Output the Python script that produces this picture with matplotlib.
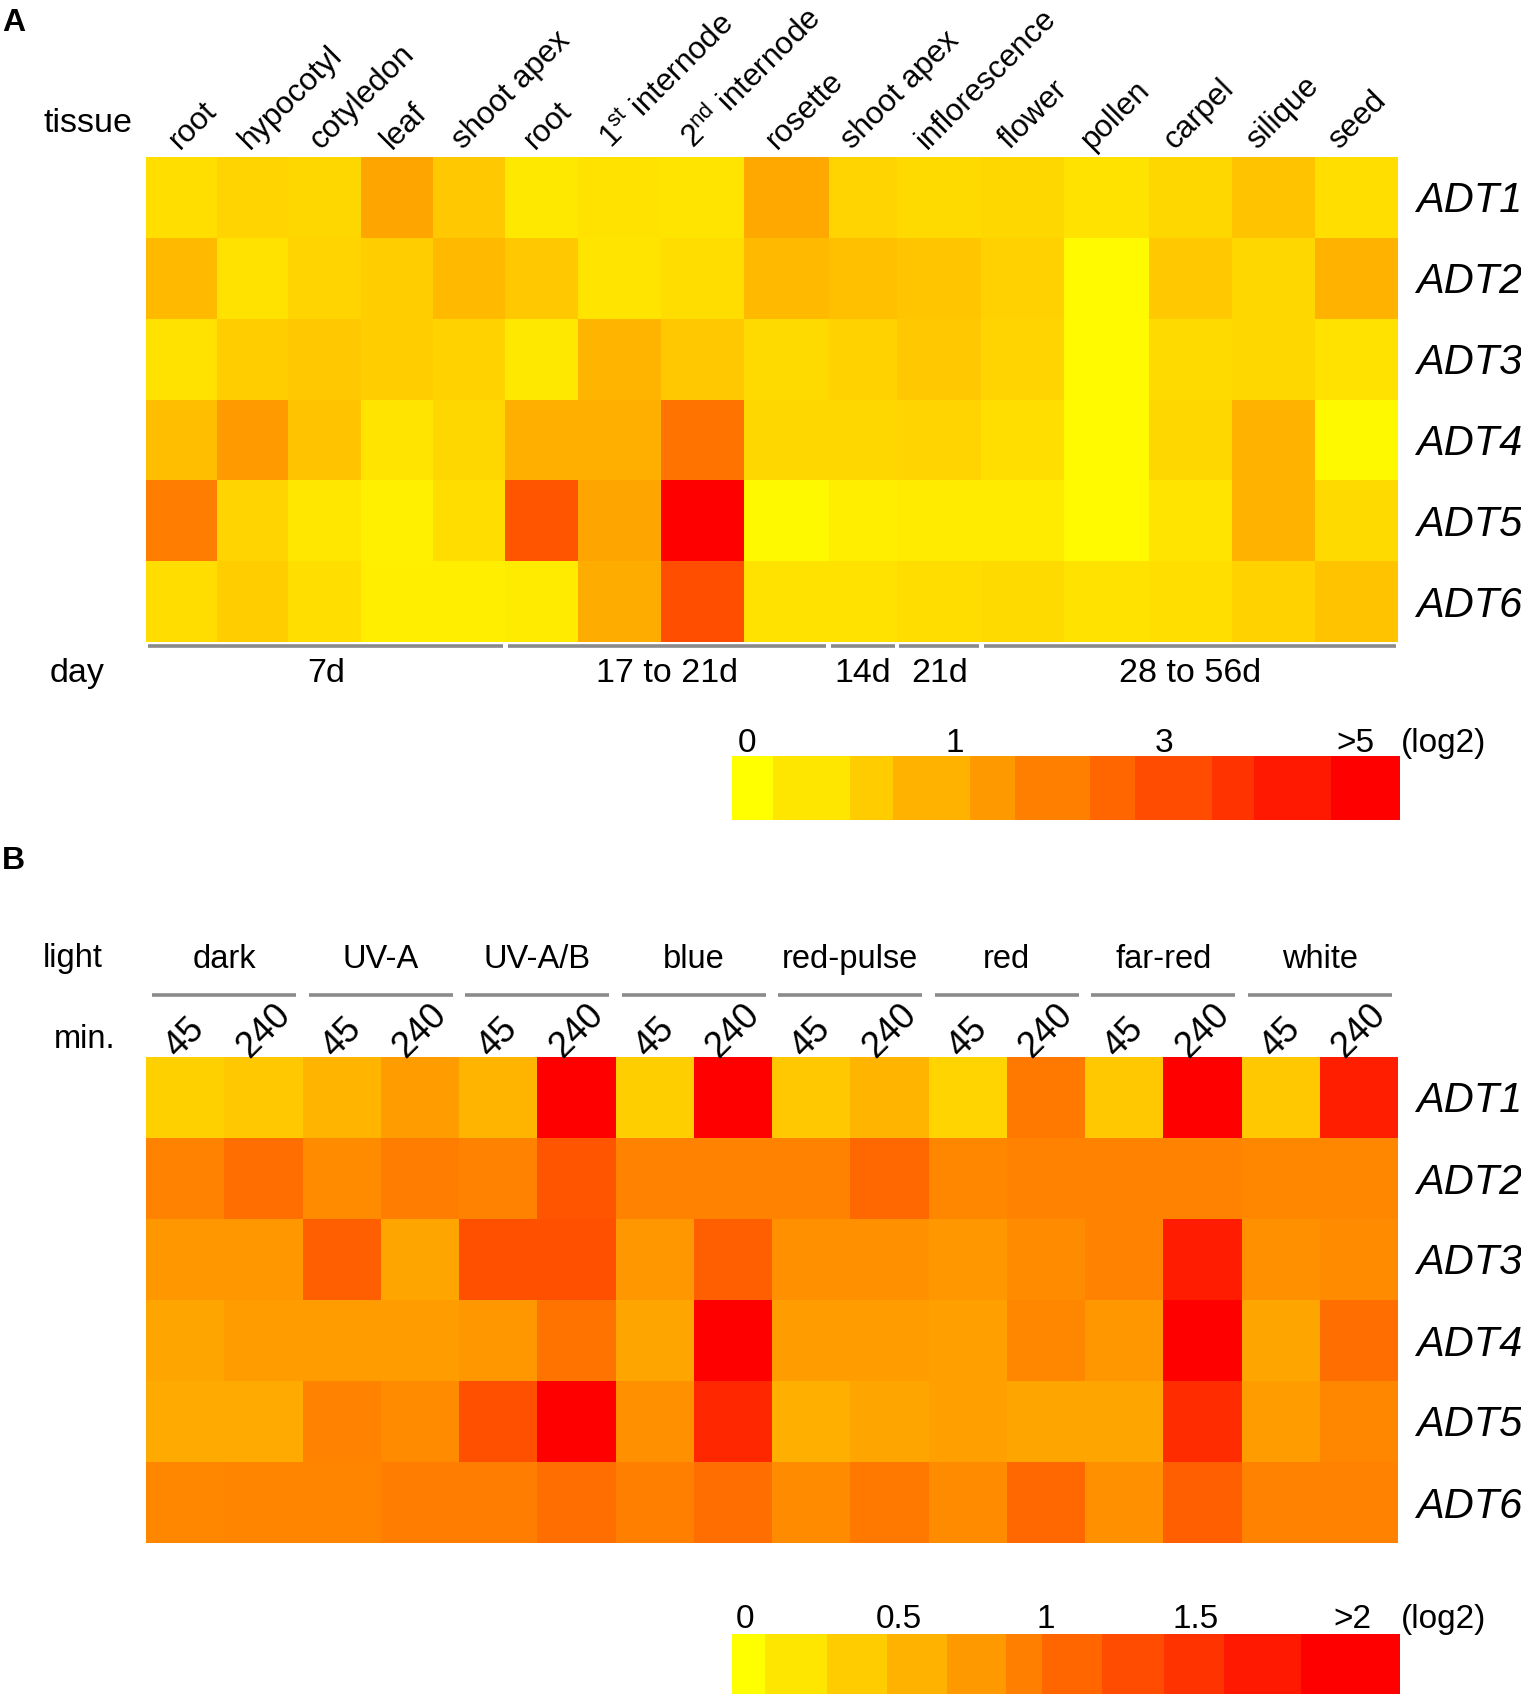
import numpy as np
import matplotlib
matplotlib.use('Agg')
import matplotlib.pyplot as plt
from matplotlib import transforms as mtransforms
from matplotlib.colors import LinearSegmentedColormap

# ---- data (log2 expression) ----
genes = ['ADT1', 'ADT2', 'ADT3', 'ADT4', 'ADT5', 'ADT6']

tissues = ['root', 'hypocotyl', 'cotyledon', 'leaf', 'shoot apex', 'root',
           '1$^{\\mathregular{st}}$ internode', '2$^{\\mathregular{nd}}$ internode',
           'rosette', 'shoot apex', 'inflorescence', 'flower', 'pollen',
           'carpel', 'silique', 'seed']
day_groups = ['7d', '17 to 21d', '14d', '21d', '28 to 56d']
day_sizes = [5, 4, 1, 1, 5]

tissue_expr = np.array([
    [.39, .51, .47, 1.12, .65, .27, .35, .32, 1.05, .51, .44, .47, .35, .47, .71, .39],
    [.82, .35, .51, .59, .82, .65, .32, .41, .82, .74, .67, .55, .06, .65, .47, .91],
    [.35, .59, .65, .59, .53, .27, .88, .65, .44, .53, .65, .51, .06, .44, .47, .35],
    [.76, 1.35, .71, .32, .47, .94, .94, 2.29, .47, .47, .51, .39, .06, .47, .91, .08],
    [2.06, .51, .29, .18, .41, 3.0, 1.12, 5.0, .08, .20, .24, .24, .06, .32, .91, .44],
    [.41, .59, .39, .20, .20, .24, .98, 3.16, .35, .35, .41, .44, .35, .39, .53, .71],
])

light_groups = ['dark', 'UV-A', 'UV-A/B', 'blue', 'red-pulse', 'red', 'far-red', 'white']
minutes = ['45', '240']

light_expr = np.array([
    [.37, .43, .59, .78, .59, 2.3, .39, 2.2, .43, .59, .34, 1.06, .43, 2.4, .43, 1.76],
    [.98, 1.14, .90, 1.02, .98, 1.33, .98, .98, .98, 1.18, .94, .98, .98, .98, .94, .94],
    [.82, .82, 1.25, .71, 1.37, 1.37, .82, 1.25, .86, .86, .82, .90, .98, 1.78, .86, .90],
    [.71, .78, .78, .78, .82, 1.10, .71, 2.5, .78, .78, .75, .94, .82, 2.6, .71, 1.14],
    [.67, .67, .98, .90, 1.37, 2.4, .86, 1.69, .63, .71, .75, .71, .71, 1.65, .78, .94],
    [.94, .96, .96, 1.02, 1.02, 1.14, 1.0, 1.14, .90, 1.06, .90, 1.18, .86, 1.25, .98, .98],
])

cbar_a_labels = ['0', '1', '3', '>5']
cbar_b_labels = ['0', '0.5', '1', '1.5', '>2']

# ---- style ----
plt.rcParams['font.family'] = ['Liberation Sans', 'DejaVu Sans']
cmap = LinearSegmentedColormap.from_list('heat', ['#ffff00', '#ff0000'])
LINE = '#8a8a8a'

W, H = 1521, 1697
fig = plt.figure(figsize=(W / 100, H / 100), dpi=100)


def px_axes(l, t, r, b):
    return fig.add_axes([l / W, 1 - b / H, (r - l) / W, (b - t) / H])


def ftext(x, y, s, **kw):
    fig.text(x / W, 1 - y / H, s, **kw)


def shift(tr, dx=0, dy=0):
    return mtransforms.offset_copy(tr, fig=fig, x=dx, y=dy, units='dots')


def row_labels(ax):
    tr = mtransforms.blended_transform_factory(ax.transAxes, ax.transData)
    for i, g in enumerate(genes):
        ax.text(1.0, i + 0.5, g, transform=shift(tr, 18, -4), ha='left', va='center',
                style='italic', fontsize=30)


def colorbar(ax, bounds, ticks, labels, fs, gap):
    bounds = np.array(bounds)
    levels = np.linspace(0, 1, len(bounds) - 1)
    ax.bar(bounds[:-1], 1, width=np.diff(bounds), align='edge',
           color=cmap(levels), linewidth=0)
    ax.set_xlim(0, 1)
    ax.set_ylim(0, 1)
    ax.axis('off')
    tr = mtransforms.blended_transform_factory(ax.transData, shift(ax.transAxes, 0, gap))
    for p, lab in zip(ticks, labels):
        ax.text(p, 1, lab, transform=tr, ha='center', va='baseline', fontsize=fs)
    ax.text(1.0, 1, '(log2)', transform=shift(ax.transAxes, 1, gap),
            ha='left', va='baseline', fontsize=fs)


# ================= panel A =================
col_w = np.array([88, 89, 90, 90, 90, 90, 103, 104, 105, 85, 105, 103, 105, 103, 104, 103]) / 97.3
x_edges = np.concatenate([[0], np.cumsum(col_w)])
centers = (x_edges[:-1] + x_edges[1:]) / 2

axA = px_axes(146, 157, 1398, 642)
fracA = np.interp(tissue_expr, [0, 1, 3, 5], [0, 1 / 3, 2 / 3, 1])
axA.pcolormesh(x_edges, np.arange(len(genes) + 1), fracA, cmap=cmap, vmin=0, vmax=1)
axA.set_xlim(x_edges[0], x_edges[-1])
axA.set_ylim(len(genes), 0)
axA.axis('off')
row_labels(axA)

for i, (c, t) in enumerate(zip(centers, tissues)):
    axA.text(c, 0, t, transform=shift(axA.transData, -2 - i, 7), rotation=45,
             rotation_mode='anchor', ha='left', va='baseline', fontsize=22.5)

trA = mtransforms.blended_transform_factory(axA.transData, axA.transAxes)
start = 0
for g, n in zip(day_groups, day_sizes):
    x0, x1 = x_edges[start], x_edges[start + n]
    axA.plot([x0 + 0.03, x1 - 0.03], [0, 0], transform=shift(trA, 0, -4), color=LINE,
             lw=2.6, solid_capstyle='butt', clip_on=False)
    axA.text((x0 + x1) / 2, 0, g, transform=shift(trA, 0, -40), ha='center',
             va='baseline', fontsize=24.5)
    start += n

ftext(2, 31, 'A', weight='bold', fontsize=23, ha='left', va='baseline')
ftext(43, 132, 'tissue', fontsize=24.5, ha='left', va='baseline')
ftext(50, 682, 'day', fontsize=24.5, ha='left', va='baseline')

cbA = px_axes(732, 756, 1400, 820)
colorbar(cbA, [0, .0616, .1764, .2413, .3569, .4235, .5366, .6032, .7188, .7820, .8960, 1],
         [0.022, 0.334, 0.646, 0.933], cbar_a_labels, 24, 4)

# ================= panel B =================
ncol = len(light_groups) * len(minutes)
axB = px_axes(146, 1057, 1398, 1543)
axB.pcolormesh(np.arange(ncol + 1), np.arange(len(genes) + 1),
               np.clip(light_expr / 2, 0, 1), cmap=cmap, vmin=0, vmax=1)
axB.set_xlim(0, ncol)
axB.set_ylim(len(genes), 0)
axB.axis('off')
row_labels(axB)

trB = mtransforms.blended_transform_factory(axB.transData, axB.transAxes)
for i, g in enumerate(light_groups):
    x0, x1 = 2 * i, 2 * i + 2
    axB.plot([x0 + 0.08, x1 - 0.08], [1, 1], transform=shift(trB, 0, 62), color=LINE,
             lw=2.6, solid_capstyle='butt', clip_on=False)
    axB.text(i * 2 + 1, 1, g, transform=shift(trB, 0, 89), ha='center', va='baseline',
             fontsize=23.5)
    for j, m in enumerate(minutes):
        axB.text(x0 + j + 0.5, 1, m, transform=shift(trB, 0, -8), rotation=45,
                 ha='center', va='bottom', fontsize=26)

ftext(2, 869, 'B', weight='bold', fontsize=23, ha='left', va='baseline')
ftext(43, 967, 'light', fontsize=23.5, ha='left', va='baseline')
ftext(54, 1048, 'min.', fontsize=23.5, ha='left', va='baseline')

cbB = px_axes(732, 1634, 1400, 1694)
colorbar(cbB, [0, .0495, .1422, .2318, .3221, .4108, .4635, .5546, .6465, .7368, .8523, 1],
         [0.02, 0.25, 0.47, 0.694, 0.929], cbar_b_labels, 24, 6)

fig.savefig('out.png', dpi=100, facecolor='white')
